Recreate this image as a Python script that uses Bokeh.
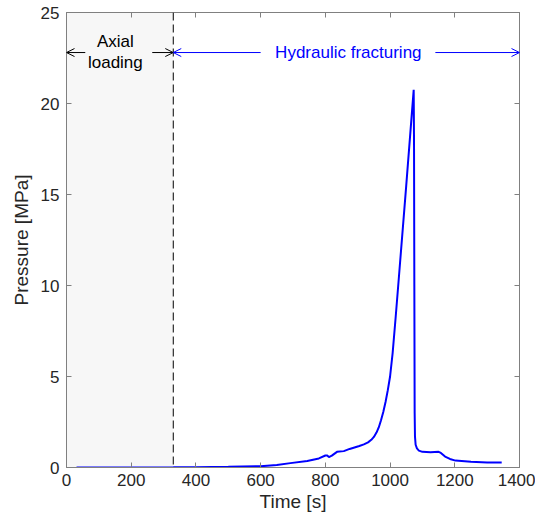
from bokeh.plotting import figure
from bokeh.models import (LinearAxis, FixedTicker, Range1d, BoxAnnotation, Span,
                          Arrow, OpenHead, Label)
from bokeh.embed import file_html
from bokeh.resources import INLINE

# ---- data ----
time_s = [31, 200, 330, 400, 500, 600, 650, 692, 744, 780, 800, 806, 811, 820, 836,
          857, 875, 890, 905, 919, 932, 942, 950, 958, 965, 972, 979, 986, 993, 1000,
          1008, 1017, 1027, 1050, 1073, 1074, 1075, 1076, 1077, 1079, 1083, 1089, 1100,
          1125, 1150, 1157, 1170, 1185, 1202, 1250, 1300, 1345]
pressure_mpa = [0.0, 0.0, 0.01, 0.02, 0.04, 0.07, 0.14, 0.24, 0.36, 0.50, 0.66, 0.66,
                0.57, 0.65, 0.86, 0.90, 1.02, 1.10, 1.18, 1.27, 1.38, 1.52, 1.68, 1.92,
                2.20, 2.60, 3.05, 3.60, 4.25, 5.00, 6.30, 8.20, 10.40, 15.50, 20.75, 18.0,
                10.0, 3.0, 1.70, 1.25, 1.05, 0.93, 0.86, 0.84, 0.86, 0.80, 0.60, 0.47,
                0.38, 0.31, 0.28, 0.27]

x_ticks = [0, 200, 400, 600, 800, 1000, 1200, 1400]
y_ticks = [0, 5, 10, 15, 20, 25]

stage_boundary = 330      # end of axial loading [s]
arrow_level = 22.8        # MPa, height of the stage arrows
axial_text = ["Axial", "loading"]
hydro_text = "Hydraulic fracturing"

FONT = "Liberation Sans"
AX = "#808080"
TXT = "#262626"

p = figure(width=535, height=515, output_backend="svg", toolbar_location=None,
           x_range=Range1d(0, 1400), y_range=Range1d(0, 25),
           x_axis_label="Time [s]", y_axis_label="Pressure [MPa]",
           min_border_left=66, min_border_right=16, min_border_top=12,
           min_border_bottom=48)
p.grid.visible = False
p.outline_line_color = AX
p.background_fill_color = "white"

# shaded axial loading zone
p.add_layout(BoxAnnotation(left=0, right=stage_boundary, fill_color="#f7f7f7",
                           fill_alpha=1.0, line_color=None, level="underlay"))
p.add_layout(Span(location=stage_boundary, dimension="height", line_color="black",
                  line_dash="8 4", line_width=1))

p.line(time_s, pressure_mpa, line_color="#0000ff", line_width=2)

# stage arrows
p.add_layout(Arrow(end=OpenHead(size=8, line_width=1, line_color="black"),
                   x_start=58, y_start=arrow_level, x_end=0, y_end=arrow_level,
                   line_color="black", line_width=1))
p.add_layout(Arrow(end=OpenHead(size=8, line_width=1, line_color="black"),
                   x_start=265, y_start=arrow_level, x_end=stage_boundary, y_end=arrow_level,
                   line_color="black", line_width=1))
p.add_layout(Arrow(end=OpenHead(size=8, line_width=1, line_color="#0000ff"),
                   x_start=600, y_start=arrow_level, x_end=stage_boundary, y_end=arrow_level,
                   line_color="#0000ff", line_width=1))
p.add_layout(Arrow(end=OpenHead(size=8, line_width=1, line_color="#0000ff"),
                   x_start=1140, y_start=arrow_level, x_end=1400, y_end=arrow_level,
                   line_color="#0000ff", line_width=1))

p.add_layout(Label(x=151, y=23.4, text=axial_text[0], text_align="center",
                   text_baseline="middle", text_font=FONT, text_font_size="17px",
                   text_color="black"))
p.add_layout(Label(x=151, y=22.25, text=axial_text[1], text_align="center",
                   text_baseline="middle", text_font=FONT, text_font_size="17px",
                   text_color="black"))
p.add_layout(Label(x=871, y=arrow_level, text=hydro_text, text_align="center",
                   text_baseline="middle", text_font=FONT, text_font_size="17px",
                   text_color="#0000ff"))

# axes styling
p.xaxis.ticker = FixedTicker(ticks=x_ticks)
p.yaxis.ticker = FixedTicker(ticks=y_ticks)
for ax in [p.xaxis[0], p.yaxis[0]]:
    ax.axis_line_color = AX
    ax.major_tick_line_color = AX
    ax.major_tick_in = 5
    ax.major_tick_out = 0
    ax.minor_tick_line_color = None
    ax.major_label_text_font = FONT
    ax.major_label_text_font_size = "17px"
    ax.major_label_text_color = TXT
    ax.axis_label_text_font = FONT
    ax.axis_label_text_font_size = "19px"
    ax.axis_label_text_font_style = "normal"
    ax.axis_label_text_color = TXT
p.xaxis.major_label_standoff = 6
p.xaxis.axis_label_standoff = 2
p.yaxis.major_label_standoff = 7
p.yaxis.axis_label_standoff = 6

top = LinearAxis(ticker=FixedTicker(ticks=x_ticks),
                 major_label_overrides={t: "" for t in x_ticks},
                 major_label_standoff=0, axis_line_color=AX, major_tick_line_color=AX,
                 major_tick_in=5, major_tick_out=0, minor_tick_line_color=None)
right = LinearAxis(ticker=FixedTicker(ticks=y_ticks),
                   major_label_overrides={t: "" for t in y_ticks},
                   major_label_standoff=0, axis_line_color=AX, major_tick_line_color=AX,
                   major_tick_in=5, major_tick_out=0, minor_tick_line_color=None)
p.add_layout(top, "above")
p.add_layout(right, "right")

open("out.html", "w").write(file_html(p, INLINE))
